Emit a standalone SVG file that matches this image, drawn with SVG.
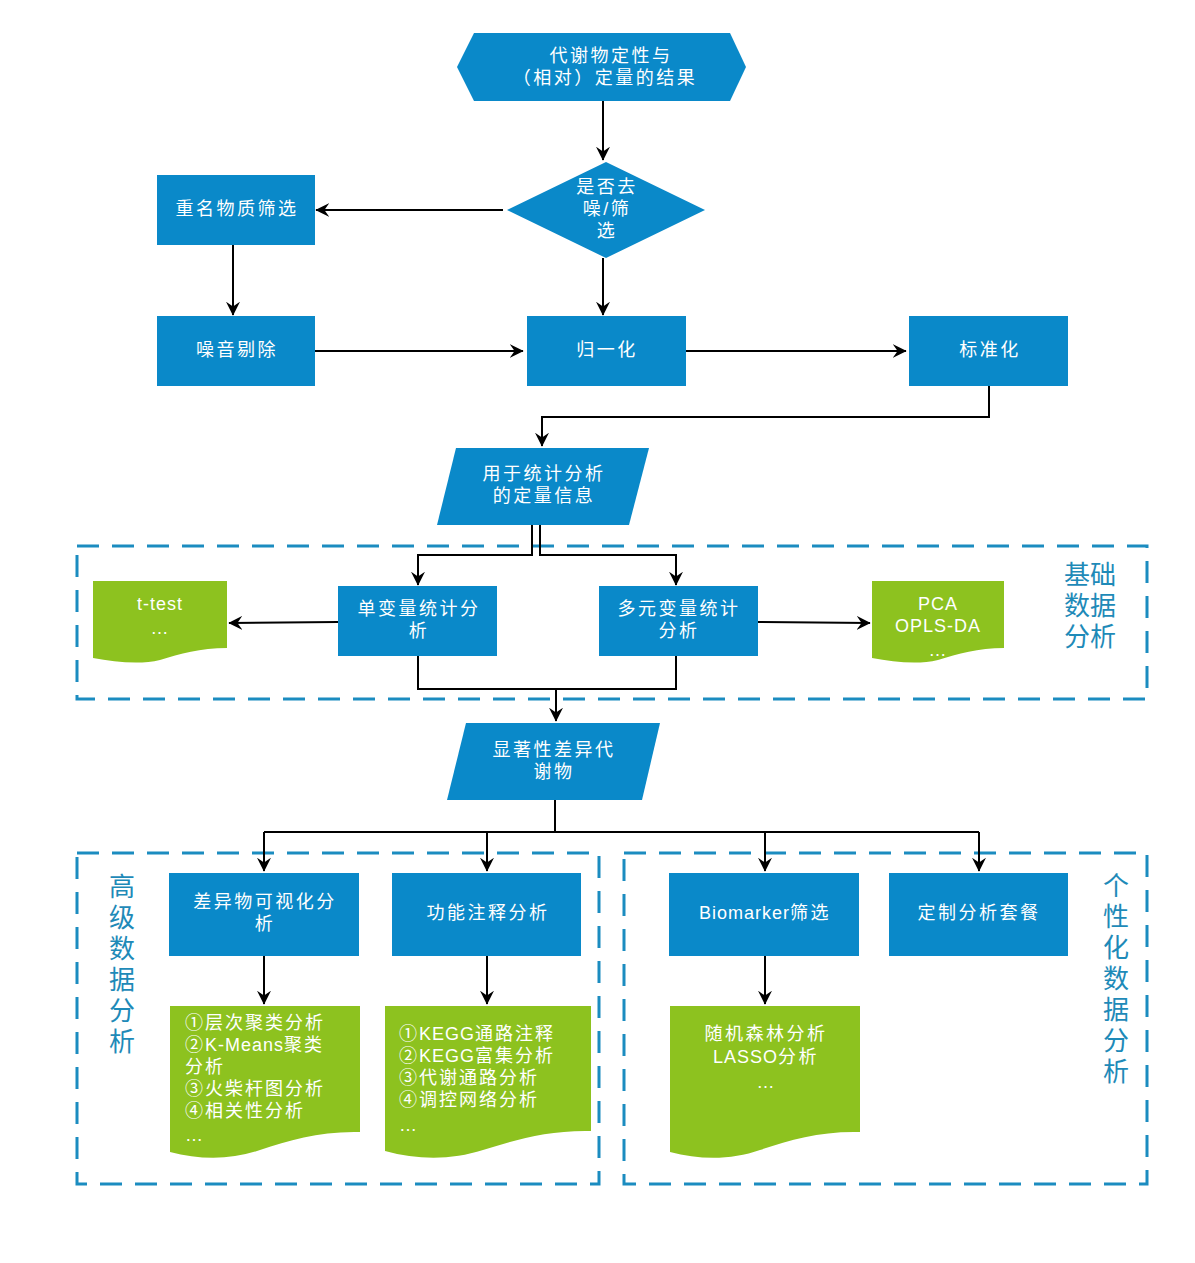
<svg xmlns="http://www.w3.org/2000/svg" width="1195" height="1263" viewBox="0 0 1195 1263">
<style>
.blue{fill:#0a89c9}
.green{fill:#8dc21f}
.t{font-family:"Liberation Sans","Noto Sans CJK SC",sans-serif;font-size:18px;letter-spacing:2.5px;fill:#ffffff;text-anchor:middle}
.tl{font-family:"Liberation Sans","Noto Sans CJK SC",sans-serif;font-size:18px;letter-spacing:2px;fill:#ffffff}
.lat{letter-spacing:1px}
.lab{font-family:"Liberation Sans","Noto Sans CJK SC",sans-serif;font-size:26px;fill:#1e8ab8;text-anchor:middle}
.dash{fill:none;stroke:#1b8cc0;stroke-width:3;stroke-dasharray:22 13}
.c{fill:none;stroke:#000;stroke-width:2}
.a{marker-end:url(#arr)}
</style>
<defs>
<marker id="arr" viewBox="0 0 10 10" refX="9.5" refY="5" markerWidth="14" markerHeight="14" markerUnits="userSpaceOnUse" orient="auto">
<path d="M0,0 L10,5 L0,10 L3.5,5 Z" fill="#000"/>
</marker>
</defs>
<rect width="1195" height="1263" fill="#ffffff"/>

<g id="groups">
<rect id="basic-box" class="dash" x="77" y="546" width="1070" height="153"/>
<rect id="advanced-box" class="dash" x="77" y="853" width="522" height="331"/>
<rect id="custom-box" class="dash" x="624" y="853" width="523" height="331"/>
<text class="lab" x="1090" y="584">基础</text>
<text class="lab" x="1090" y="615">数据</text>
<text class="lab" x="1090" y="646">分析</text>
<g class="lab">
<text x="122" y="896">高</text><text x="122" y="927">级</text><text x="122" y="958">数</text><text x="122" y="989">据</text><text x="122" y="1020">分</text><text x="122" y="1051">析</text>
<text x="1116" y="895">个</text><text x="1116" y="926">性</text><text x="1116" y="957">化</text><text x="1116" y="988">数</text><text x="1116" y="1019">据</text><text x="1116" y="1050">分</text><text x="1116" y="1081">析</text>
</g>
</g>

<g id="connectors">
<path class="c a" d="M603,101 V160"/>
<path class="c a" d="M503,210 H316"/>
<path class="c a" d="M233,245 V315"/>
<path class="c a" d="M603,258 V315"/>
<path class="c a" d="M315,351 H523"/>
<path class="c a" d="M686,351 H906"/>
<path class="c a" d="M989,386 V417 H542 V446"/>
<path class="c a" d="M532,525 V555 H418 V585"/>
<path class="c a" d="M540,525 V555 H676 V585"/>
<path class="c a" d="M338,622 L229,623"/>
<path class="c a" d="M758,622 L870,623"/>
<path class="c" d="M418,656 V689 H676 V656"/>
<path class="c a" d="M556,689 V721"/>
<path class="c" d="M555,800 V832 M264,832 H979"/>
<path class="c a" d="M264,832 V871"/>
<path class="c a" d="M487,832 V871"/>
<path class="c a" d="M765,832 V871"/>
<path class="c a" d="M979,832 V871"/>
<path class="c a" d="M264,956 V1004"/>
<path class="c a" d="M487,956 V1004"/>
<path class="c a" d="M765,956 V1004"/>
</g>

<g id="n-start">
<polygon class="blue" points="457,67 474,33 730,33 746,67 730,101 474,101"/>
<text class="t" x="611" y="62">代谢物定性与</text>
<text class="t" x="605" y="84">（相对）定量的结果</text>
</g>
<g id="n-decision">
<polygon class="blue" points="606,162 705,210 606,258 507,210"/>
<text class="t" x="607" y="193">是否去</text>
<text class="t" x="607" y="215">噪/筛</text>
<text class="t" x="607" y="237">选</text>
</g>
<g id="n-dup">
<rect class="blue" x="157" y="175" width="158" height="70"/>
<text class="t" x="237" y="215">重名物质筛选</text>
</g>
<g id="n-noise">
<rect class="blue" x="157" y="316" width="158" height="70"/>
<text class="t" x="237" y="356">噪音剔除</text>
</g>
<g id="n-norm">
<rect class="blue" x="527" y="316" width="159" height="70"/>
<text class="t" x="607" y="356">归一化</text>
</g>
<g id="n-std">
<rect class="blue" x="909" y="316" width="159" height="70"/>
<text class="t" x="990" y="356">标准化</text>
</g>
<g id="n-quant">
<polygon class="blue" points="456,448 649,448 629,525 437,525"/>
<text class="t" x="544" y="480">用于统计分析</text>
<text class="t" x="544" y="502">的定量信息</text>
</g>
<g id="n-uni">
<rect class="blue" x="338" y="586" width="159" height="70"/>
<text class="t" x="419" y="615">单变量统计分</text>
<text class="t" x="419" y="637">析</text>
</g>
<g id="n-multi">
<rect class="blue" x="599" y="586" width="159" height="70"/>
<text class="t" x="679" y="615">多元变量统计</text>
<text class="t" x="679" y="637">分析</text>
</g>
<g id="n-ttest">
<path class="green" d="M93,581 H227 V648 C200,648 180,654 160,660 C140,665 115,662 93,658 Z"/>
<text class="t lat" x="160" y="610">t-test</text>
<text class="t lat" x="160" y="634">…</text>
</g>
<g id="n-pca">
<path class="green" d="M872,581 H1004 V648 C978,648 958,654 938,660 C918,665 894,662 872,658 Z"/>
<text class="t lat" x="938" y="610">PCA</text>
<text class="t lat" x="938" y="632">OPLS-DA</text>
<text class="t lat" x="938" y="656">…</text>
</g>
<g id="n-sig">
<polygon class="blue" points="466,723 660,723 642,800 447,800"/>
<text class="t" x="554" y="756">显著性差异代</text>
<text class="t" x="554" y="778">谢物</text>
</g>
<g id="n-vis">
<rect class="blue" x="169" y="873" width="190" height="83"/>
<text class="t" x="265" y="908">差异物可视化分</text>
<text class="t" x="265" y="930">析</text>
</g>
<g id="n-func">
<rect class="blue" x="392" y="873" width="189" height="83"/>
<text class="t" x="488" y="919">功能注释分析</text>
</g>
<g id="n-bio">
<rect class="blue" x="669" y="873" width="190" height="83"/>
<text class="t" x="765" y="919"><tspan class="lat">Biomarker</tspan>筛选</text>
</g>
<g id="n-custom">
<rect class="blue" x="889" y="873" width="179" height="83"/>
<text class="t" x="979" y="919">定制分析套餐</text>
</g>
<g id="n-vislist">
<path class="green" d="M170,1006 H360 V1132 C320,1131 290,1140 260,1150 C232,1160 200,1160 170,1152 Z"/>
<text class="tl" x="185" y="1029">①层次聚类分析</text>
<text class="tl" x="185" y="1051">②<tspan class="lat">K-Means</tspan>聚类</text>
<text class="tl" x="185" y="1073">分析</text>
<text class="tl" x="185" y="1095">③火柴杆图分析</text>
<text class="tl" x="185" y="1117">④相关性分析</text>
<text class="tl lat" x="185" y="1141">…</text>
</g>
<g id="n-funclist">
<path class="green" d="M385,1006 H591 V1131 C548,1130 515,1140 483,1150 C452,1160 418,1160 385,1151 Z"/>
<text class="tl" x="399" y="1040">①<tspan class="lat">KEGG</tspan>通路注释</text>
<text class="tl" x="399" y="1062">②<tspan class="lat">KEGG</tspan>富集分析</text>
<text class="tl" x="399" y="1084">③代谢通路分析</text>
<text class="tl" x="399" y="1106">④调控网络分析</text>
<text class="tl lat" x="399" y="1131">…</text>
</g>
<g id="n-biolist">
<path class="green" d="M670,1006 H860 V1132 C820,1131 790,1140 760,1150 C732,1160 700,1160 670,1152 Z"/>
<text class="t" x="766" y="1040">随机森林分析</text>
<text class="t" x="766" y="1063"><tspan class="lat">LASSO</tspan>分析</text>
<text class="t lat" x="766" y="1088">…</text>
</g>
</svg>
